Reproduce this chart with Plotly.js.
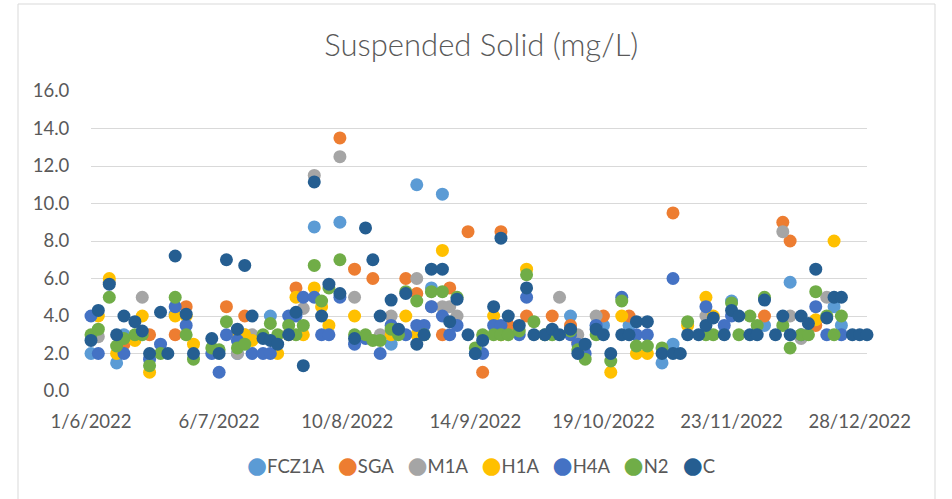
<!DOCTYPE html>
<html>
<head>
<meta charset="utf-8">
<script src="https://cdn.plot.ly/plotly-3.0.1.min.js"></script>
<style>html,body{margin:0;padding:0;background:#fff;}#chart{width:952px;height:499px;}</style>
</head>
<body>
<div id="chart"></div>
<script>
const n = null;
// Sampling dates (Mon/Wed/Fri)
const dates = [
 "2022-06-01","2022-06-03","2022-06-06","2022-06-08","2022-06-10","2022-06-13","2022-06-15","2022-06-17","2022-06-20","2022-06-22","2022-06-24","2022-06-27","2022-06-29",
 "2022-07-04","2022-07-06","2022-07-08","2022-07-11","2022-07-13","2022-07-15","2022-07-18","2022-07-20","2022-07-22","2022-07-25","2022-07-27","2022-07-29",
 "2022-08-01","2022-08-03","2022-08-05","2022-08-08","2022-08-12","2022-08-15","2022-08-17","2022-08-19","2022-08-22","2022-08-24","2022-08-26","2022-08-29","2022-08-31",
 "2022-09-02","2022-09-05","2022-09-07","2022-09-09","2022-09-12","2022-09-14","2022-09-16","2022-09-19","2022-09-21","2022-09-23","2022-09-26","2022-09-28","2022-09-30",
 "2022-10-03","2022-10-05","2022-10-07","2022-10-10","2022-10-12","2022-10-14","2022-10-17","2022-10-19","2022-10-21","2022-10-24","2022-10-26","2022-10-28","2022-10-31",
 "2022-11-04","2022-11-07","2022-11-09","2022-11-11","2022-11-14","2022-11-16","2022-11-18","2022-11-21","2022-11-23","2022-11-25","2022-11-28","2022-11-30",
 "2022-12-02","2022-12-05","2022-12-07","2022-12-09","2022-12-12","2022-12-14","2022-12-16","2022-12-19","2022-12-21","2022-12-23","2022-12-26","2022-12-28","2022-12-30"
];
const FCZ1A = [
 2.0,n,n,1.5,3.0,n,n,n,n,n,4.1,n,n,
 n,n,n,2.0,n,n,n,4.0,n,n,n,n,
 8.75,n,n,9.0,n,n,n,n,2.5,n,n,11.0,n,
 5.5,10.5,n,n,n,n,n,n,n,n,n,n,n,
 n,n,n,4.0,n,n,3.5,3.5,n,n,3.5,n,n,
 1.5,2.5,n,n,n,n,n,n,4.8,n,n,n,
 3.5,n,n,5.8,n,n,n,n,4.5,3.5,n,n,n
];
const SGA = [
 n,n,n,n,2.5,n,n,3.0,n,n,3.0,4.5,n,
 n,n,4.5,n,4.0,n,n,n,n,n,5.5,n,
 n,n,n,13.5,6.5,n,6.0,n,n,n,6.0,5.2,n,
 n,3.0,5.5,n,8.5,n,1.0,n,8.5,3.5,n,4.0,n,
 n,4.0,n,3.5,2.6,n,n,4.0,n,n,4.0,n,n,
 n,9.5,n,n,n,n,n,n,n,n,n,n,
 4.0,n,9.0,8.0,n,n,3.5,n,n,n,n,n,n
];
const M1A = [
 n,2.9,5.8,n,n,n,5.0,n,n,n,n,n,n,
 n,n,n,2.0,3.0,3.0,n,n,n,n,n,4.4,
 11.5,n,n,12.5,5.0,n,n,3.0,4.0,n,n,6.0,n,
 4.5,4.5,4.5,4.0,n,n,n,n,n,n,n,n,n,
 n,n,5.0,n,3.0,n,4.0,n,n,n,n,n,n,
 n,n,n,n,n,4.0,n,n,n,n,n,n,
 n,n,8.5,4.0,2.8,n,n,5.0,n,n,n,n,n
];
const H1A = [
 n,4.0,6.0,2.0,n,2.7,4.0,1.0,n,n,4.0,4.0,2.5,
 n,n,n,3.0,3.0,2.7,n,n,2.0,3.0,5.0,3.0,
 5.5,4.5,3.5,n,4.0,n,n,n,3.0,n,4.0,3.0,n,
 n,7.5,n,n,n,n,n,4.0,3.0,n,n,6.5,n,
 n,n,n,n,n,n,n,n,1.0,4.0,n,2.0,2.0,
 n,n,n,3.5,n,5.0,4.0,n,n,n,n,n,
 n,n,n,n,n,n,3.8,n,8.0,n,n,n,n
];
const H4A = [
 4.0,2.0,n,n,2.0,n,n,1.7,2.5,n,4.5,3.5,n,
 2.0,1.0,3.0,2.7,n,2.0,2.0,2.0,n,4.0,4.0,5.0,
 5.0,3.0,3.0,5.0,2.5,2.8,n,2.0,3.5,3.2,3.0,3.5,3.5,
 4.5,4.0,3.0,3.5,n,2.0,2.0,3.5,3.5,n,3.0,5.0,n,
 n,n,n,3.0,2.5,2.0,3.5,n,n,5.0,n,3.0,3.0,
 n,6.0,n,n,n,4.5,n,3.5,4.0,n,n,n,
 n,n,n,n,3.0,n,4.5,3.0,n,3.0,n,n,n
];
const N2 = [
 3.0,3.3,5.0,2.4,2.8,3.0,3.0,1.35,2.0,n,5.0,3.0,1.7,
 2.3,2.2,3.7,2.3,2.5,n,3.0,3.6,3.0,3.5,3.0,3.5,
 6.7,4.8,5.5,7.0,3.0,3.0,2.7,2.7,3.3,3.0,5.3,4.8,3.0,
 5.3,5.3,n,5.0,n,2.3,3.0,3.0,3.0,3.0,3.2,6.2,3.7,
 3.0,3.0,n,3.2,2.2,1.7,3.0,n,1.6,4.8,n,2.4,2.4,
 2.3,n,n,3.7,n,3.0,3.0,n,4.7,3.0,4.0,3.5,
 5.0,n,3.5,2.3,3.0,3.0,5.3,4.0,3.0,4.0,n,n,n
];
const C = [
 2.7,4.3,5.7,3.0,4.0,3.7,3.2,2.0,4.2,2.0,7.2,4.1,2.0,
 2.8,2.0,7.0,3.3,6.7,4.0,2.8,2.7,2.5,3.0,4.2,1.35,
 11.15,4.0,5.7,5.2,2.8,8.7,7.0,4.0,4.85,3.3,5.2,2.5,3.0,
 6.5,6.5,3.7,4.9,3.0,2.0,2.7,4.5,8.15,4.0,3.5,5.5,3.0,
 3.0,3.3,3.0,3.3,2.0,2.5,3.3,3.0,2.0,3.0,3.0,3.7,3.7,
 2.0,2.0,2.0,3.0,3.0,3.5,3.9,3.0,4.3,4.0,3.0,3.0,
 4.85,3.0,4.0,3.0,4.0,3.6,6.5,3.9,5.0,5.0,3.0,3.0,3.0
];
const seriesNames = ["FCZ1A","SGA","M1A","H1A","H4A","N2","C"];
const seriesValues = [FCZ1A, SGA, M1A, H1A, H4A, N2, C];
const seriesColors = ["#5B9BD5","#ED7D31","#A5A5A5","#FFC000","#4472C4","#70AD47","#255E91"];
const tickDates = ["2022-06-01","2022-07-06","2022-08-10","2022-09-14","2022-10-19","2022-11-23","2022-12-28"];
const tickLabels = ["1/6/2022","6/7/2022","10/8/2022","14/9/2022","19/10/2022","23/11/2022","28/12/2022"];
const yTicks = [0,2,4,6,8,10,12,14,16];

const FONT = "Lato, 'Open Sans', sans-serif";
const traces = seriesNames.map((name, i) => ({
  type: "scatter", mode: "markers", name: name,
  x: dates, y: seriesValues[i],
  cliponaxis: false,
  marker: {color: seriesColors[i], size: 13, symbol: "circle", line: {width: 0}},
  showlegend: false
}));

const legendText = seriesNames.map((nm, i) =>
  '<span style="color:' + seriesColors[i] + ';font-family:DejaVu Sans;font-size:23px">\u25CF</span>' + nm
).join('&nbsp;&nbsp;&nbsp;');

const layout = {
  width: 952, height: 499,
  margin: {l: 91, r: 85, t: 91, b: 108, pad: 0},
  paper_bgcolor: "#ffffff", plot_bgcolor: "#ffffff",
  font: {family: FONT, color: "#595959", size: 18.5},
  title: {text: "Suspended Solid (mg/L)", x: 0.503, xref: "paper", xanchor: "center",
          y: 1 - 45/499, yref: "container", yanchor: "middle",
          font: {family: FONT, size: 31, color: "#595959", weight: 300}},
  xaxis: {type: "date", range: ["2022-06-01", "2022-12-30"],
          tickmode: "array", tickvals: tickDates, ticktext: tickLabels,
          showgrid: false, zeroline: false, showline: false,
          ticks: "outside", ticklen: 14, tickcolor: "rgba(0,0,0,0)",
          tickfont: {family: FONT, size: 18.5, color: "#595959"}},
  yaxis: {range: [0, 16], tickmode: "array", tickvals: yTicks,
          ticktext: yTicks.map(v => v.toFixed(1)),
          showgrid: true, gridcolor: "#D9D9D9", gridwidth: 1,
          zeroline: false, showline: false,
          ticks: "outside", ticklen: 17, tickcolor: "rgba(0,0,0,0)",
          tickfont: {family: FONT, size: 18.5, color: "#595959"}},
  annotations: [{
    xref: "paper", yref: "paper", x: 0.502, y: (391 - 465) / 300,
    xanchor: "center", yanchor: "middle", showarrow: false,
    text: legendText, font: {family: FONT, size: 18.5, color: "#595959"}
  }],
  shapes: [{
    type: "rect", xref: "paper", yref: "paper",
    x0: (18 - 91) / 776, x1: (935 - 91) / 776,
    y0: (391 - 510) / 300, y1: (391 - 4) / 300,
    line: {color: "#D9D9D9", width: 1}, fillcolor: "rgba(0,0,0,0)", layer: "below"
  }]
};

Plotly.newPlot("chart", traces, layout, {displayModeBar: false, staticPlot: true});
</script>
</body>
</html>
